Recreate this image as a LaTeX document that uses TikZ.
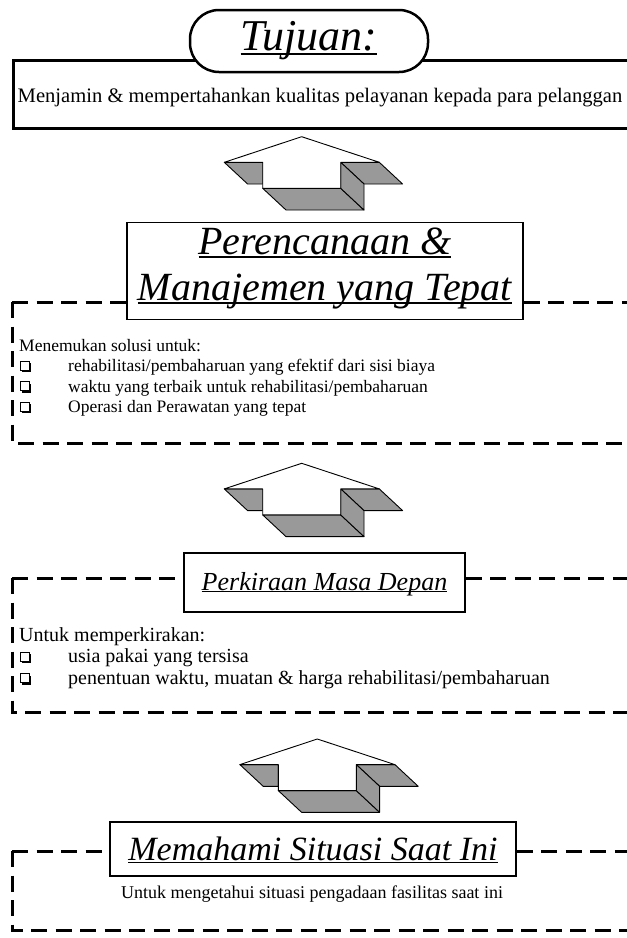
\documentclass[tikz,border=0pt]{standalone}
\usepackage{fontspec}
\setmainfont{Liberation Serif}
\newlength\ulwd
\newcommand\myul[1]{\settowidth\ulwd{#1}\rlap{\rule[-0.09em]{\ulwd}{0.045em}}#1}
\definecolor{agray}{RGB}{153,153,153}
\begin{document}
\begin{tikzpicture}[x=1pt,y=-1pt,
  body/.style={inner sep=0pt,font=\fontsize{17.5}{20.5}\selectfont},
  bodyb/.style={inner sep=0pt,font=\fontsize{20}{21.5}\selectfont},
  ttlbox/.style={draw,line width=1.5pt,fill=white,inner sep=0pt},
  ttltext/.style={inner sep=0pt,font=\itshape},
  dsh/.style={line width=3pt,dash pattern=on 16pt off 8.5pt},
  face/.style={fill=agray,draw=black,line width=0.9pt,line join=round},
  topface/.style={fill=white,draw=black,line width=0.9pt,line join=round},
  uparrow/.pic={
    \path[face] (-77.4,25.6) -- (-39,25.6) -- (-39,47.3) -- (-54.1,47.3) -- cycle;
    \path[face] (39,25.6) -- (77.6,25.6) -- (100.9,47.3) -- (62.3,47.3) -- cycle;
    \path[face] (-39,51.6) -- (39,51.6) -- (62.3,73.3) -- (-15.7,73.3) -- cycle;
    \path[face] (39,25.6) -- (62.3,47.3) -- (62.3,73.3) -- (39,51.6) -- cycle;
    \path[topface] (0,0) -- (77.6,25.6) -- (39,25.6) -- (39,51.6) -- (-39,51.6) -- (-39,25.6) -- (-77.4,25.6) -- cycle;
  },
  qbox/.pic={
    \fill (2,-8.2) rectangle (11,0.6);
    \filldraw[fill=white,line width=0.9pt] (0,-10.4) rectangle (9,-1.4);
  }
]
\useasboundingbox (0,0) rectangle (627,938);
\clip (0,0) rectangle (627,938);

% ---- Tujuan ----
\node[draw,line width=3pt,minimum width=660pt,minimum height=68pt,inner sep=0pt,anchor=north west] (goalrect) at (12,59) {};
\node[draw,line width=2.5pt,fill=white,rounded corners=29pt,minimum width=238pt,minimum height=62pt,inner sep=0pt] (goal) at (309,41) {\fontsize{44}{44}\selectfont\itshape\myul{Tujuan:}};
\node[inner sep=0pt,font=\fontsize{20.6}{21}\selectfont,anchor=base] (goaltxt) at (320,102) {Menjamin \& mempertahankan kualitas pelayanan kepada para pelanggan};

% ---- arrows ----
\pic at (301.7,136.7) {uparrow};
\pic at (301.7,463.3) {uparrow};
\pic at (317.3,739) {uparrow};

% ---- Perencanaan ----
\coordinate (c1) at (12,302);
\coordinate (c1b) at (12,443);
\node[ttlbox,minimum width=396pt,minimum height=97pt] (plan) at (325,271) {};
\draw[dsh] (c1) -- (plan.west |- c1);
\draw[dsh] (plan.east |- c1) -- (660,302);
\draw[dsh] (c1) -- (c1b) -- (660,443);
\node[ttltext,font=\fontsize{40}{40}\selectfont\itshape,anchor=base] (plan1) at (325,254) {\myul{Perencanaan \&}};
\node[ttltext,font=\fontsize{40}{40}\selectfont\itshape,anchor=base] (plan2) at (325,300) {\myul{Manajemen yang Tepat}};
\node[body,anchor=base west] (m0) at (19,351) {Menemukan solusi untuk:};
\pic at (20,371.5) {qbox};
\pic at (20,392) {qbox};
\pic at (20,412.5) {qbox};
\node[body,anchor=base west] (m1) at (68,371.5) {rehabilitasi/pembaharuan yang efektif dari sisi biaya};
\node[body,anchor=base west] (m2) at (68,392) {waktu yang terbaik untuk rehabilitasi/pembaharuan};
\node[body,anchor=base west] (m3) at (68,412.5) {Operasi dan Perawatan yang tepat};

% ---- Perkiraan ----
\coordinate (c2) at (12,578);
\coordinate (c2b) at (12,712);
\node[ttlbox,minimum width=281pt,minimum height=59pt] (fore) at (324.5,582.5) {};
\draw[dsh] (c2) -- (fore.west |- c2);
\draw[dsh] (fore.east |- c2) -- (660,578);
\draw[dsh] (c2) -- (c2b) -- (660,712);
\node[ttltext,font=\fontsize{26}{26}\selectfont\itshape,anchor=base] (foret) at (324.5,590) {\myul{Perkiraan Masa Depan}};
\node[bodyb,anchor=base west] (f0) at (19,641) {Untuk memperkirakan:};
\pic at (20,662.5) {qbox};
\pic at (20,684) {qbox};
\node[bodyb,anchor=base west] (f1) at (68,662.5) {usia pakai yang tersisa};
\node[bodyb,anchor=base west] (f2) at (68,684) {penentuan waktu, muatan \& harga rehabilitasi/pembaharuan};

% ---- Memahami ----
\coordinate (c3) at (12,851);
\coordinate (c3b) at (12,930);
\node[ttlbox,minimum width=406pt,minimum height=54pt] (now) at (313,849) {};
\draw[dsh] (c3) -- (now.west |- c3);
\draw[dsh] (now.east |- c3) -- (660,851);
\draw[dsh] (c3) -- (c3b) -- (660,930);
\node[ttltext,font=\fontsize{34}{34}\selectfont\itshape,anchor=base] (nowt) at (313,860) {\myul{Memahami Situasi Saat Ini}};
\node[inner sep=0pt,font=\fontsize{18}{20}\selectfont,anchor=base] (nowtxt) at (312,898) {Untuk mengetahui situasi pengadaan fasilitas saat ini};
\end{tikzpicture}
\end{document}
